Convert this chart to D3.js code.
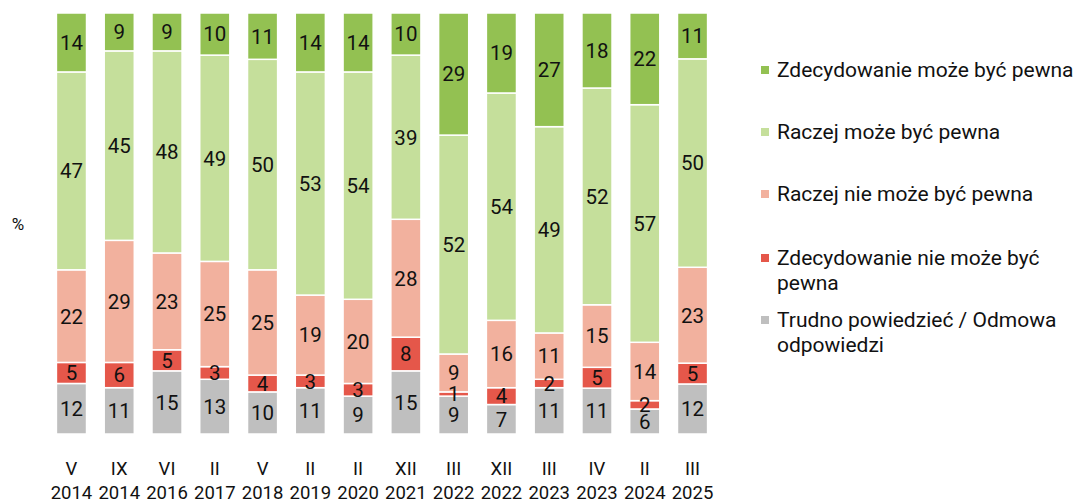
<!DOCTYPE html>
<html>
<head>
<meta charset="utf-8">
<script src="https://cdn.jsdelivr.net/npm/d3@7"></script>
<style>
  body { margin: 0; background: #fff; }
  svg text { font-family: Roboto, "Noto Sans", sans-serif; fill: #111; }
</style>
</head>
<body>
<svg id="chart" width="1081" height="504"></svg>
<script>
const months = ['V', 'IX', 'VI', 'II', 'V', 'II', 'II', 'XII', 'III', 'XII', 'III', 'IV', 'II', 'III'];
const years = ['2014', '2014', '2016', '2017', '2018', '2019', '2020', '2021', '2022', '2022', '2023', '2023', '2024', '2025'];

const seriesNames = [
  'Trudno powiedzieć / Odmowa odpowiedzi',
  'Zdecydowanie nie może być pewna',
  'Raczej nie może być pewna',
  'Raczej może być pewna',
  'Zdecydowanie może być pewna'
];
const trudno = [12, 11, 15, 13, 10, 11, 9, 15, 9, 7, 11, 11, 6, 12];
const zdecNie = [5, 6, 5, 3, 4, 3, 3, 8, 1, 4, 2, 5, 2, 5];
const raczejNie = [22, 29, 23, 25, 25, 19, 20, 28, 9, 16, 11, 15, 14, 23];
const raczejTak = [47, 45, 48, 49, 50, 53, 54, 39, 52, 54, 49, 52, 57, 50];
const zdecTak = [14, 9, 9, 10, 11, 14, 14, 10, 29, 19, 27, 18, 22, 11];

const colors = ['#bfbfbf', '#e5574a', '#f2b19e', '#c5df9b', '#93c152'];

const series = [trudno, zdecNie, raczejNie, raczejTak, zdecTak];
const keys = months.map((m, i) => i);
const table = keys.map((i) => {
  const row = { id: i };
  series.forEach((s, k) => { row[k] = s[i]; });
  return row;
});

const svg = d3.select('#chart');
const x = d3.scaleBand().domain(keys).range([44, 720]).paddingInner(0.37).paddingOuter(0.26);
const y = d3.scaleLinear().domain([0, 1]).range([434, 13]);

const stack = d3.stack().keys([0, 1, 2, 3, 4]).offset(d3.stackOffsetExpand);
const layers = stack(table);

// bars first, labels on top so small segments keep their numbers visible
const bars = svg.append('g');
const labels = svg.append('g');
layers.forEach((layer, k) => {
  bars.append('g').selectAll('rect')
    .data(layer)
    .join('rect')
    .attr('x', (d, i) => x(i))
    .attr('width', x.bandwidth())
    .attr('y', (d) => y(d[1]))
    .attr('height', (d) => y(d[0]) - y(d[1]))
    .attr('fill', colors[k])
    .attr('stroke', '#fff')
    .attr('stroke-width', 1.5);
  labels.append('g').selectAll('text')
    .data(layer)
    .join('text')
    .attr('x', (d, i) => x(i) + x.bandwidth() / 2)
    .attr('y', (d) => (y(d[0]) + y(d[1])) / 2)
    .attr('dy', '0.36em')
    .attr('text-anchor', 'middle')
    .attr('font-size', 20.5)
    .text((d, i) => series[k][i]);
});

const xl = svg.append('g');
keys.forEach((i) => {
  const cx = x(i) + x.bandwidth() / 2;
  xl.append('text').attr('x', cx).attr('y', 475).attr('text-anchor', 'middle')
    .attr('font-size', 18.5).text(months[i]);
  xl.append('text').attr('x', cx).attr('y', 499).attr('text-anchor', 'middle')
    .attr('font-size', 18.5).text(years[i]);
});

svg.append('text').attr('x', 18).attr('y', 230).attr('text-anchor', 'middle')
  .attr('font-size', 17).text('%');

const legendItems = [
  { k: 4, lines: ['Zdecydowanie może być pewna'], y: 70 },
  { k: 3, lines: ['Raczej może być pewna'], y: 132 },
  { k: 2, lines: ['Raczej nie może być pewna'], y: 194 },
  { k: 1, lines: ['Zdecydowanie nie może być', 'pewna'], y: 258 },
  { k: 0, lines: ['Trudno powiedzieć / Odmowa', 'odpowiedzi'], y: 320 }
];
const leg = svg.append('g');
legendItems.forEach((item) => {
  leg.append('rect').attr('x', 761).attr('y', item.y - 4).attr('width', 8).attr('height', 8)
    .attr('fill', colors[item.k]);
  item.lines.forEach((line, j) => {
    leg.append('text').attr('x', 777).attr('y', item.y + j * 25).attr('dy', '0.35em')
      .attr('font-size', 21).text(line);
  });
});
</script>
</body>
</html>
